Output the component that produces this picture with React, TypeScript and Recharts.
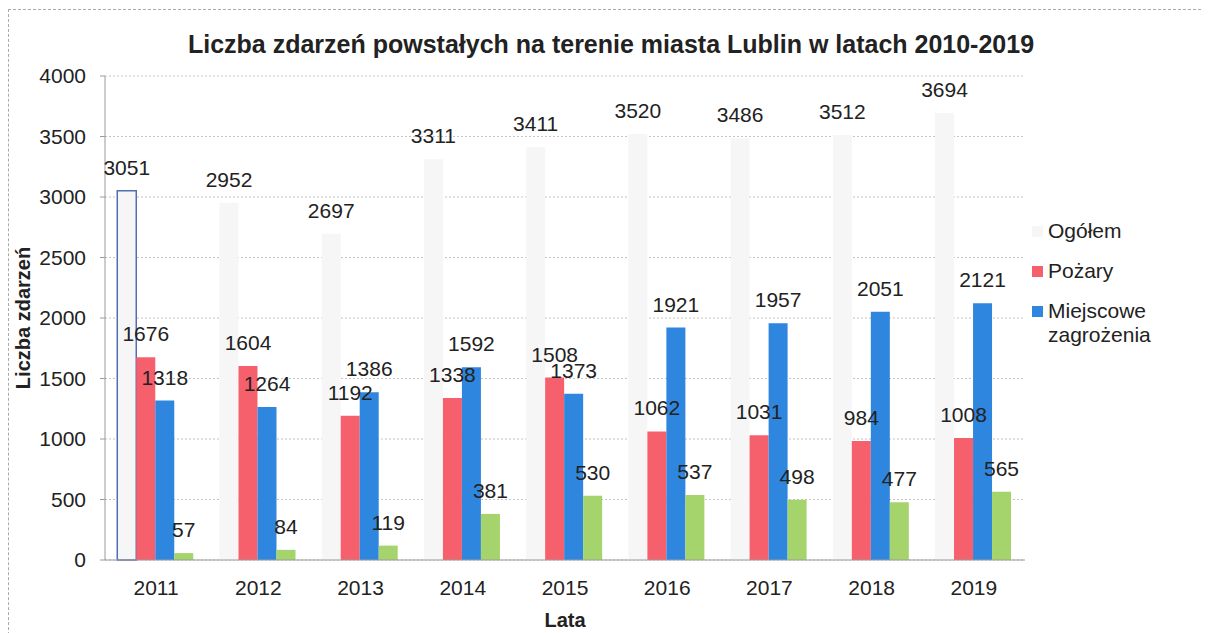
import { Bar, BarChart, CartesianGrid, Cell, LabelList, XAxis, YAxis } from "recharts";

const years = ["2011", "2012", "2013", "2014", "2015", "2016", "2017", "2018", "2019"];
const ogolem = [3051, 2952, 2697, 3311, 3411, 3520, 3486, 3512, 3694];
const pozary = [1676, 1604, 1192, 1338, 1508, 1062, 1031, 984, 1008];
const miejscowe = [1318, 1264, 1386, 1592, 1373, 1921, 1957, 2051, 2121];
const alarmy = [57, 84, 119, 381, 530, 537, 498, 477, 565];
const yTicks = [0, 500, 1000, 1500, 2000, 2500, 3000, 3500, 4000];

const data = years.map((y, i) => ({
  year: y,
  ogolem: ogolem[i],
  pozary: pozary[i],
  miejscowe: miejscowe[i],
  alarmy: alarmy[i],
}));

const FONT = "'Liberation Sans', Arial, Helvetica, sans-serif";
const RED = "#f6606c";
const BLUE = "#2f86de";
const GREEN = "#a5d36c";
const PALE = "#f6f6f6";

const labelStyle = { fontSize: 21, fill: "#222", fontFamily: FONT };

function YTitle(props: any) {
  const vb = props.viewBox ?? {};
  const cx = 15;
  const cy = (vb.y ?? 0) + (vb.height ?? 0) / 2;
  return (
    <text
      x={cx}
      y={cy}
      transform={`rotate(-90 ${cx} ${cy})`}
      textAnchor="middle"
      dominantBaseline="central"
      style={{ fontFamily: FONT, fontSize: 20, fontWeight: 700, fill: "#222" }}
    >
      Liczba zdarzeń
    </text>
  );
}

function LegendRow({ color, lines }: { color: string; lines: string[] }) {
  return (
    <div style={{ display: "flex", alignItems: "flex-start", gap: 5, marginBottom: 16 }}>
      <span
        style={{
          width: 11,
          height: 11,
          background: color,
          display: "inline-block",
          marginTop: 7,
        }}
      />
      <span style={{ fontSize: 21, lineHeight: "24px", color: "#222" }}>
        {lines.map((l) => (
          <div key={l}>{l}</div>
        ))}
      </span>
    </div>
  );
}

export default function App() {
  return (
    <div style={{ position: "relative", width: 1200, height: 625, fontFamily: FONT }}>
      {/* dotted frame: top and left */}
      <div
        style={{
          position: "absolute",
          left: 0,
          top: 1,
          width: 1202,
          height: 640,
          borderTop: "1px dashed #aaa",
          borderLeft: "1px dashed #aaa",
        }}
      />
      <div
        style={{
          position: "absolute",
          left: 0,
          top: 22,
          width: 1206,
          textAlign: "center",
          fontSize: 25,
          fontWeight: 700,
          color: "#222",
        }}
      >
        Liczba zdarzeń powstałych na terenie miasta Lublin w latach 2010-2019
      </div>

      <BarChart
        width={1200}
        height={625}
        data={data}
        margin={{ top: 68, right: 183, bottom: 0, left: 0 }}
        barCategoryGap="12%"
        barGap={0}
        style={{ position: "absolute", left: 0, top: 0 }}
      >
        <CartesianGrid vertical={false} stroke="#c4c4c4" strokeDasharray="2 2" />
        <XAxis
          dataKey="year"
          height={73}
          axisLine={{ stroke: "#9a9a9a" }}
          tickLine={false}
          tickMargin={14}
          tick={{ fontSize: 21, fill: "#222", fontFamily: FONT }}
          label={{
            value: "Lata",
            position: "insideBottom",
            offset: 6,
            style: { fontSize: 20, fontWeight: 700, fill: "#222", fontFamily: FONT },
          }}
        />
        <YAxis
          width={97}
          domain={[0, 4000]}
          ticks={yTicks}
          interval={0}
          axisLine={{ stroke: "#9a9a9a" }}
          tickLine={{ stroke: "#9a9a9a" }}
          tickSize={5}
          tickMargin={14}
          tick={{ fontSize: 21, fill: "#222", fontFamily: FONT }}
          label={<YTitle />}
        />
        <Bar dataKey="ogolem" name="Ogółem" fill={PALE} isAnimationActive={false}>
          {data.map((d, i) => (
            <Cell
              key={d.year}
              fill={PALE}
              stroke={i === 0 ? "#4f6fae" : "none"}
              strokeWidth={i === 0 ? 1.5 : 0}
            />
          ))}
          <LabelList dataKey="ogolem" position="top" offset={16} style={labelStyle} />
        </Bar>
        <Bar dataKey="pozary" name="Pożary" fill={RED} isAnimationActive={false}>
          <LabelList dataKey="pozary" position="top" offset={16} style={labelStyle} />
        </Bar>
        <Bar dataKey="miejscowe" name="Miejscowe zagrożenia" fill={BLUE} isAnimationActive={false}>
          <LabelList dataKey="miejscowe" position="top" offset={16} style={labelStyle} />
        </Bar>
        <Bar dataKey="alarmy" name="Alarmy fałszywe" fill={GREEN} isAnimationActive={false}>
          <LabelList dataKey="alarmy" position="top" offset={16} style={labelStyle} />
        </Bar>
      </BarChart>

      <div style={{ position: "absolute", left: 1024, top: 211 }}>
        <LegendRow color={PALE} lines={["Ogółem"]} />
        <LegendRow color={RED} lines={["Pożary"]} />
        <LegendRow color={BLUE} lines={["Miejscowe", "zagrożenia"]} />
      </div>
    </div>
  );
}
